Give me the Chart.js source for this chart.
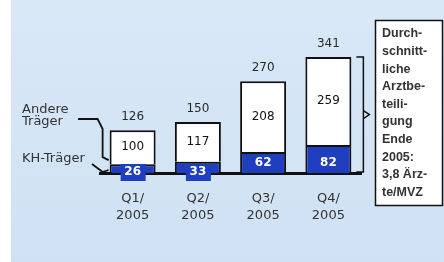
<!DOCTYPE html>
<html>
<head>
<meta charset="utf-8">
<script src="https://cdn.jsdelivr.net/npm/chart.js@4"></script>
<style>
  html, body { margin: 0; padding: 0; background: #fff; }
  #wrap { width: 444px; height: 262px; }
</style>
</head>
<body>
<div id="wrap"><canvas id="chart" width="444" height="262"></canvas></div>
<script>
const quarters = [["Q1/", "2005"], ["Q2/", "2005"], ["Q3/", "2005"], ["Q4/", "2005"]];
const khTraeger = [26, 33, 62, 82];
const andereTraeger = [100, 117, 208, 259];
const totals = [126, 150, 270, 341];
const seriesNames = ["KH-Träger", "Andere Träger"];
const noteLines = ["Durch-", "schnitt-", "liche", "Arztbe-", "teili-", "gung", "Ende", "2005:", "3,8 Ärz-", "te/MVZ"];

const FONT = "'DejaVu Sans', sans-serif";
const ARIAL = "'Liberation Sans', Arial, sans-serif";
const BLUE = "#1f3fbf";
const INK = "#2a2a2a";

// light blue page with the white strip on the left
const background = {
  id: "background",
  beforeDraw(chart) {
    const { ctx, width, height } = chart;
    ctx.save();
    ctx.fillStyle = "#ffffff";
    ctx.fillRect(0, 0, width, height);
    const g = ctx.createLinearGradient(0, 0, 0, height);
    g.addColorStop(0, "#d9e8f7");
    g.addColorStop(1, "#cfe1f3");
    ctx.fillStyle = g;
    ctx.fillRect(11, 0, width - 11, height);
    ctx.restore();
  }
};

function line(ctx, pts) {
  ctx.beginPath();
  ctx.moveTo(pts[0][0], pts[0][1]);
  for (let i = 1; i < pts.length; i++) ctx.lineTo(pts[i][0], pts[i][1]);
  ctx.stroke();
}

const annotations = {
  id: "annotations",
  afterDraw(chart) {
    const { ctx } = chart;
    const y = chart.scales.y;
    const kh = chart.getDatasetMeta(0).data;
    const an = chart.getDatasetMeta(1).data;

    ctx.save();
    ctx.textAlign = "center";
    ctx.textBaseline = "middle";

    // totals above the bars
    ctx.font = "12px " + FONT;
    ctx.fillStyle = INK;
    totals.forEach((t, i) => {
      ctx.fillText(String(t), an[i].x, y.getPixelForValue(t) - 13);
    });

    // white segment values
    ctx.font = "12px " + FONT;
    ctx.fillStyle = "#111";
    andereTraeger.forEach((v, i) => {
      const b = an[i];
      ctx.fillText(String(v), b.x, (b.y + b.base) / 2);
    });

    // blue segment values
    ctx.font = "bold 12px " + FONT;
    khTraeger.forEach((v, i) => {
      const b = kh[i];
      const h = b.base - b.y;
      let cy = b.base - 10;
      if (h < 18) {
        cy = b.base - 1;
        ctx.fillStyle = BLUE;
        ctx.fillRect(b.x - 12, cy - 8, 25, 17);
      }
      ctx.fillStyle = "#ffffff";
      ctx.fillText(String(v), b.x, cy);
    });

    // left legend labels with leaders to the first bar
    const L = an[0].x - an[0].width / 2;
    ctx.textAlign = "left";
    ctx.font = "13px " + FONT;
    ctx.fillStyle = "#333";
    const parts = seriesNames[1].split(" ");
    ctx.fillText(parts[0], 22, 110);
    ctx.fillText(parts[1], 22, 122);
    ctx.fillText(seriesNames[0], 22, 159);

    ctx.strokeStyle = "#111";
    ctx.lineWidth = 1.8;
    line(ctx, [[78, 119], [L - 12, 119], [L - 7, 129], [L - 7, an[0].base - 7], [L - 1, an[0].base - 4]]);
    line(ctx, [[92, 164], [L - 7, 172], [L - 1, 170]]);

    // bracket next to the last bar
    const last = an[an.length - 1];
    const R = last.x + last.width / 2;
    const top = last.y;
    const bot = y.getPixelForValue(0) - 1;
    const mid = (top + bot) / 2;
    ctx.lineWidth = 1.5;
    line(ctx, [[R + 5, top], [R + 12, top], [R + 12, bot], [R + 5, bot]]);
    line(ctx, [[R + 12, mid - 4], [R + 18, mid], [R + 12, mid + 4]]);

    // note box
    ctx.fillStyle = "#ffffff";
    ctx.fillRect(375, 20, 68, 185);
    ctx.strokeStyle = "#111";
    ctx.lineWidth = 1.5;
    ctx.strokeRect(375.5, 20.5, 67, 185);
    ctx.font = "bold 12.5px " + ARIAL;
    ctx.fillStyle = "#333";
    noteLines.forEach((t, i) => {
      ctx.fillText(t, 382, 34 + i * 17.6);
    });
    ctx.restore();
  }
};

new Chart(document.getElementById("chart"), {
  type: "bar",
  data: {
    labels: quarters,
    datasets: [
      {
        label: seriesNames[0],
        data: khTraeger,
        backgroundColor: BLUE,
        borderColor: "#111",
        borderWidth: 2,
        barPercentage: 0.705,
        categoryPercentage: 1
      },
      {
        label: seriesNames[1],
        data: andereTraeger,
        backgroundColor: "#ffffff",
        borderColor: "#111",
        borderWidth: 2,
        barPercentage: 0.705,
        categoryPercentage: 1
      }
    ]
  },
  options: {
    responsive: false,
    animation: false,
    layout: { padding: { left: 100, right: 83, top: 37, bottom: 0 } },
    plugins: {
      legend: { display: false },
      tooltip: { enabled: false }
    },
    scales: {
      x: {
        stacked: true,
        z: 1,
        grid: { display: false, drawTicks: false },
        border: { display: true, color: "#111", width: 3 },
        ticks: {
          color: "#333",
          padding: 17,
          font: { family: FONT, size: 13, lineHeight: 1.3 }
        },
        afterFit(scale) { scale.height = 89; }
      },
      y: {
        stacked: true,
        display: false,
        min: 0,
        max: 400
      }
    }
  },
  plugins: [background, annotations]
});
</script>
</body>
</html>
